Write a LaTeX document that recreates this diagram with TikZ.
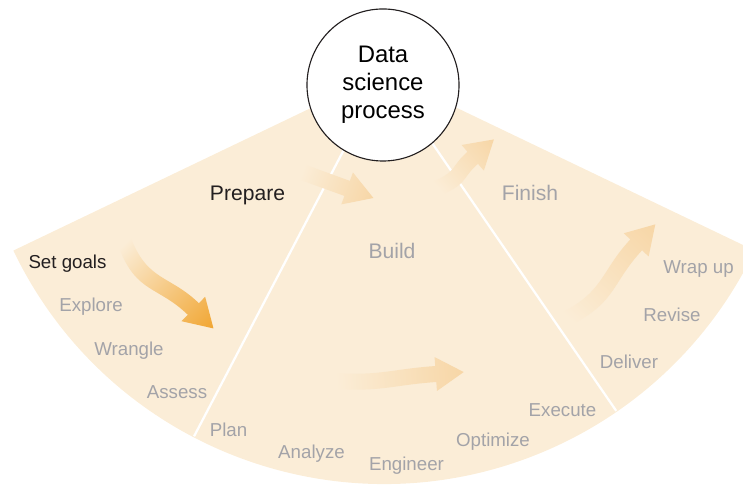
\documentclass[tikz,border=0pt]{standalone}
\usepackage{fontspec}
\setmainfont{Liberation Sans}
\usetikzlibrary{positioning}
\definecolor{fanfill}{RGB}{251,237,215}
\definecolor{fadeink}{RGB}{163,163,168}
\definecolor{darkink}{RGB}{35,31,32}
\definecolor{strongflow}{RGB}{241,166,50}
\definecolor{paleflow}{RGB}{247,214,166}

% fading arrow: tail, angle, length, bend, colour
\def\flowarrow#1#2#3#4#5{%
  \begin{scope}[transform canvas={shift={#1}, rotate=#2}]
    \shade[left color=fanfill, right color=#5]
      (0,8) .. controls ({0.35*#3},{8+(#4)}) and ({0.6*#3-20},8) .. ({#3-28},8)
      -- ({#3-28},17) -- (#3,0) -- ({#3-28},-17) -- ({#3-28},-8)
      .. controls ({0.6*#3-20},-8) and ({0.35*#3},{-8+(#4)}) .. (0,-8) -- cycle;
  \end{scope}}

\begin{document}
\begin{tikzpicture}[x=0.025cm, y=0.025cm,
    steplabel/.style={anchor=base, text=fadeink, font=\fontsize{13.3}{16}\selectfont},
    phaselabel/.style={steplabel, font=\fontsize{15}{18}\selectfont},
    current/.style={text=darkink},
    divider/.style={draw=white, line width=1.6pt},
    hub/.style={circle, draw=darkink, line width=0.8pt, fill=white,
      minimum size=3.8cm, inner sep=0pt, align=center,
      font=\fontsize{17}{20}\selectfont}]
  \clip (0,0) rectangle (743,485);
  \coordinate (apex) at (384,412);
  \fill[fanfill] (apex) -- ++(205.6:411) arc[start angle=205.6, end angle=334.4, radius=411] -- cycle;
  \draw[divider] (apex) -- ++(242.4:410);
  \draw[divider] (apex) -- ++(304.5:410);

  \flowarrow{(125,242)}{-44}{123}{-20}{strongflow}
  \flowarrow{(302,313)}{-20}{76}{0}{paleflow}
  \flowarrow{(438,297)}{41}{74}{-8}{paleflow}
  \flowarrow{(336,104)}{4}{128}{-6}{paleflow}
  \flowarrow{(568,167)}{47}{128}{-16}{paleflow}

  \node[hub] (dsp) at (383,400) {Data\\science\\process};

  \node[steplabel, current] (setgoals) at (67.5,216) {Set goals};
  \node[steplabel] (explore) at (91,173) {Explore};
  \node[steplabel] (wrangle) at (129,129) {Wrangle};
  \node[steplabel] (assess) at (177,86) {Assess};
  \node[phaselabel, current] (prepare) at (247.5,284) {Prepare};
  \node[phaselabel] (build) at (392,226) {Build};
  \node[phaselabel] (finish) at (530,284) {Finish};
  \node[steplabel] (plan) at (228.5,48) {Plan};
  \node[steplabel] (analyze) at (311.5,26) {Analyze};
  \node[steplabel] (engineer) at (406.5,14) {Engineer};
  \node[steplabel] (optimize) at (493,38) {Optimize};
  \node[steplabel] (execute) at (562.5,68) {Execute};
  \node[steplabel] (deliver) at (629,116) {Deliver};
  \node[steplabel] (revise) at (672,163) {Revise};
  \node[steplabel] (wrapup) at (698.5,211) {Wrap up};
\end{tikzpicture}
\end{document}
